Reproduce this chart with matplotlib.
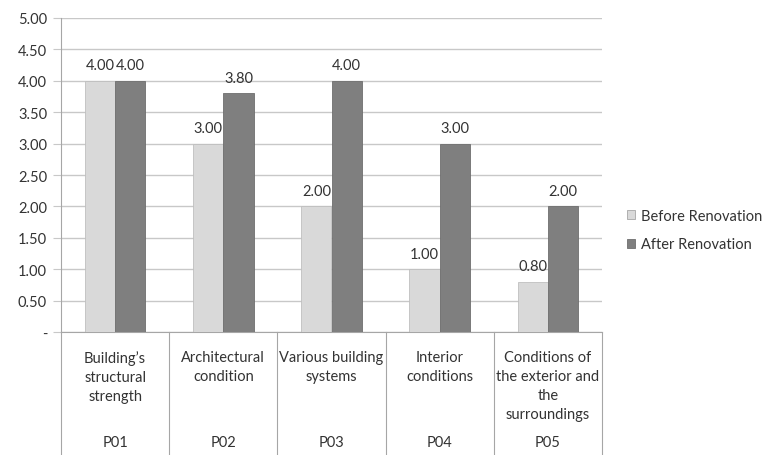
import numpy as np
import matplotlib
matplotlib.use("Agg")
import matplotlib.pyplot as plt
from matplotlib.patches import Patch
from matplotlib.lines import Line2D
import matplotlib.transforms as mtransforms

categories = [
    "Building\u2019s\nstructural\nstrength",
    "Architectural\ncondition",
    "Various building\nsystems",
    "Interior\nconditions",
    "Conditions of\nthe exterior and\nthe\nsurroundings",
]
codes = ["P01", "P02", "P03", "P04", "P05"]
before = [4.00, 3.00, 2.00, 1.00, 0.80]
after = [4.00, 3.80, 4.00, 3.00, 2.00]
yticks = [0, 0.5, 1.0, 1.5, 2.0, 2.5, 3.0, 3.5, 4.0, 4.5, 5.0]

BEFORE_C = "#D9D9D9"
AFTER_C = "#7F7F7F"
GRID_C = "#C8C8C8"
AXIS_C = "#A6A6A6"
TEXT_C = "#333333"
FS = 10.5

plt.rcParams["font.family"] = ["Lato", "DejaVu Sans"]
plt.rcParams["font.size"] = FS

fig = plt.figure(figsize=(7.64, 4.56), dpi=100)
ax = fig.add_axes([61 / 764, 1 - 333 / 456, (602 - 61) / 764, (333 - 19) / 456])

x = np.arange(len(categories))
w = 0.28
b1 = ax.bar(x - w / 2, before, w, color=BEFORE_C, edgecolor="#BFBFBF", linewidth=0.6, zorder=3)
b2 = ax.bar(x + w / 2, after, w, color=AFTER_C, edgecolor="#6E6E6E", linewidth=0.6, zorder=3)

for bars in (b1, b2):
    for r in bars:
        ax.annotate(f"{r.get_height():.2f}", (r.get_x() + r.get_width() / 2, r.get_height()),
                    xytext=(0, 6), textcoords="offset points", ha="center", va="bottom",
                    color=TEXT_C, fontsize=FS, zorder=4)

ax.set_xlim(-0.5, len(categories) - 0.5)
ax.set_ylim(0, 5)
ax.set_yticks(yticks)
ax.set_yticklabels(["-" if v == 0 else f"{v:.2f}" for v in yticks])
ax.grid(axis="y", color=GRID_C, linewidth=1.0, zorder=0)
ax.set_axisbelow(True)
ax.tick_params(axis="y", length=6, color=GRID_C, colors=TEXT_C, pad=4, labelsize=FS)
ax.tick_params(axis="x", length=0, labelbottom=False)
for s in ("top", "right"):
    ax.spines[s].set_visible(False)
ax.spines["left"].set_color(AXIS_C)
ax.spines["bottom"].set_color(AXIS_C)

# category table below the axis
trans = mtransforms.blended_transform_factory(ax.transData, ax.transAxes)
px = 1 / (333 - 19)  # one pixel in axes units
for xv in np.arange(-0.5, len(categories), 1.0):
    ax.add_line(Line2D([xv, xv], [0, -130 * px], transform=trans, color=AXIS_C,
                       linewidth=0.8, clip_on=False))
for xi, (lab, code) in zip(x, zip(categories, codes)):
    ax.text(xi, -18 * px, lab, transform=trans, ha="center", va="top",
            linespacing=1.45, color=TEXT_C, fontsize=FS)
    ax.text(xi, -110 * px, code, transform=trans, ha="center", va="center",
            color=TEXT_C, fontsize=FS)

handles = [Patch(facecolor=BEFORE_C, edgecolor="#A6A6A6", linewidth=0.6),
           Patch(facecolor=AFTER_C, edgecolor="#6E6E6E", linewidth=0.6)]
fig.legend(handles, ["Before Renovation", "After Renovation"], loc="center left",
           bbox_to_anchor=(614 / 764, 1 - 231 / 456), frameon=False, handlelength=0.55,
           handleheight=0.55, handletextpad=0.4, labelspacing=1.0, fontsize=FS,
           labelcolor=TEXT_C)

fig.savefig("out.png", dpi=100, facecolor="white")
